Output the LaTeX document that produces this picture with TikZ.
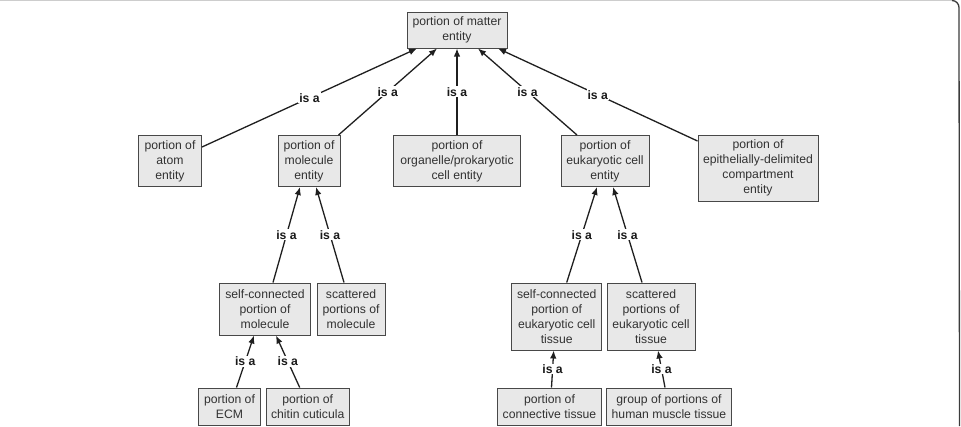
\documentclass[tikz,border=0pt]{standalone}
\usepackage{fontspec}
\setmainfont{Liberation Sans}
\usetikzlibrary{positioning,calc,arrows.meta}
\definecolor{boxfill}{RGB}{232,232,232}
\definecolor{boxline}{RGB}{72,72,72}
\definecolor{boxtext}{RGB}{50,50,50}
\definecolor{frameline}{RGB}{60,60,60}
\definecolor{frametop}{RGB}{205,205,205}

\begin{document}
\begin{tikzpicture}
		[x=1pt, y=-1pt,
		concept/.style={draw=boxline, line width=1pt, fill=boxfill, text=boxtext,
			align=center, inner sep=0pt, font=\fontsize{12.2}{15}\selectfont},
		isa/.style={draw=black!88, line width=1.3pt, -{Latex[length=8pt,width=6.5pt]}},
		isalabel/.style={fill=white, inner sep=1pt, text=black!90,
			font=\fontsize{12.2}{14}\selectfont\bfseries}]
		\useasboundingbox (0,0) rectangle (961,426);
		\draw[frametop, line width=1pt] (0,0.5) -- (953,0.5);
		\draw[frameline, line width=1.3pt] (952,0.5) arc[start angle=90, end angle=0, radius=7pt] -- (959.5,426);

		\node[concept, minimum width=100pt, minimum height=36pt] (matter) at (457,30) {portion of matter\\entity};
		\node[concept, minimum width=63pt, minimum height=51pt] (atom) at (170,161) {portion of\\atom\\entity};
		\node[concept, minimum width=62pt, minimum height=51pt] (molecule) at (309,161) {portion of\\molecule\\entity};
		\node[concept, minimum width=127pt, minimum height=51pt] (organelle) at (457,161) {portion of\\organelle/prokaryotic\\cell entity};
		\node[concept, minimum width=88pt, minimum height=51pt] (eukcell) at (605,161) {portion of\\eukaryotic cell\\entity};
		\node[concept, minimum width=120pt, minimum height=66pt] (epithel) at (758,168) {portion of\\epithelially-delimited\\compartment\\entity};

		\node[concept, minimum width=91pt, minimum height=52pt] (selfmol) at (265,309) {self-connected\\portion of\\molecule};
		\node[concept, minimum width=68pt, minimum height=52pt] (scatmol) at (351,309) {scattered\\portions of\\molecule};
		\node[concept, minimum width=90pt, minimum height=67pt] (selfeuk) at (556.7,316.5) {self-connected\\portion of\\eukaryotic cell\\tissue};
		\node[concept, minimum width=88pt, minimum height=67pt] (scateuk) at (651,316.5) {scattered\\portions of\\eukaryotic cell\\tissue};

		\node[concept, minimum width=62pt, minimum height=37pt] (ecm) at (229.5,406.5) {portion of\\ECM};
		\node[concept, minimum width=83pt, minimum height=37pt] (chitin) at (307.7,406.5) {portion of\\chitin cuticula};
		\node[concept, minimum width=104pt, minimum height=37pt] (connective) at (549.5,406.5) {portion of\\connective tissue};
		\node[concept, minimum width=125pt, minimum height=37pt] (muscle) at (669,406.5) {group of portions of\\human muscle tissue};

		\draw[isa] ([yshift=14pt]atom.east) -- node[isalabel] {is a} ([xshift=-40pt]matter.south);
		\draw[isa] ([xshift=-2pt]molecule.north east) -- node[isalabel] {is a} ([xshift=-20pt]matter.south);
		\draw[isa] (organelle.north) -- node[isalabel] {is a} (matter.south);
		\draw[isa] ([xshift=-28pt]eukcell.north) -- node[isalabel] {is a} ([xshift=21pt]matter.south);
		\draw[isa] ([yshift=27pt]epithel.west) -- node[isalabel] {is a} ([xshift=41pt]matter.south);

		\draw[isa] ([xshift=8pt]selfmol.north) -- node[isalabel] {is a} ([xshift=-9pt]molecule.south);
		\draw[isa] ([xshift=-7pt]scatmol.north) -- node[isalabel] {is a} ([xshift=7pt]molecule.south);
		\draw[isa] ([xshift=10pt]selfeuk.north) -- node[isalabel] {is a} ([xshift=-8pt]eukcell.south);
		\draw[isa] ([xshift=-9pt]scateuk.north) -- node[isalabel] {is a} ([xshift=8pt]eukcell.south);

		\draw[isa] ([xshift=7pt]ecm.north) -- node[isalabel] {is a} ([xshift=-11pt]selfmol.south);
		\draw[isa] ([xshift=-8pt]chitin.north) -- node[isalabel] {is a} ([xshift=11pt]selfmol.south);
		\draw[isa] ([xshift=2pt]connective.north) -- node[isalabel] {is a} ([xshift=-3pt]selfeuk.south);
		\draw[isa] ([xshift=-4pt]muscle.north) -- node[isalabel] {is a} ([xshift=7pt]scateuk.south);
	\end{tikzpicture}
\end{document}
